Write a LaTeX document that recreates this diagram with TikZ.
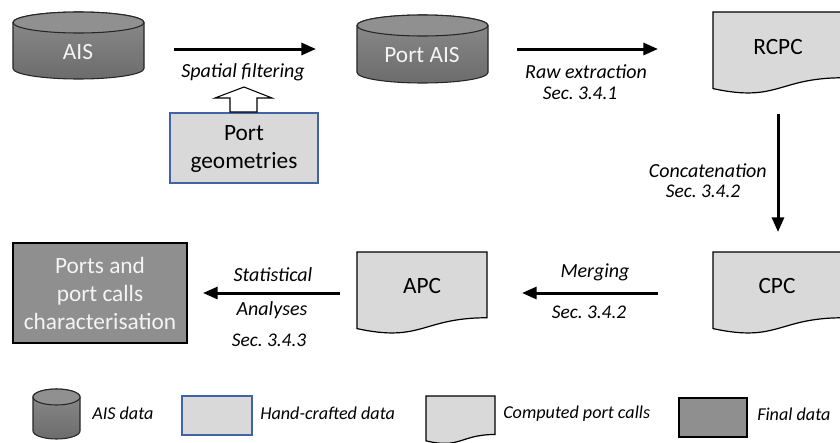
\documentclass[tikz,border=0pt]{standalone}
\usepackage{fontspec}
\setmainfont{Carlito}
\usetikzlibrary{arrows.meta,calc,fit}
\frenchspacing
\definecolor{docfill}{HTML}{D9D9D9}
\definecolor{finalfill}{HTML}{8F8F8F}
\definecolor{handborder}{HTML}{3F65A8}
\definecolor{cyltop}{HTML}{909090}
\definecolor{cylhi}{HTML}{8C8C8C}
\definecolor{cyllo}{HTML}{6C6C6C}
\definecolor{lighttext}{HTML}{F4F4F4}
\newcommand\mycyl[5]{%
  \shadedraw[top color=cylhi,bottom color=cyllo,draw=black!85,line width=0.8pt]
  (#1,{#3+#5}) -- (#1,{#4-#5}) arc[start angle=180,end angle=0,x radius={(#2-#1)/2},y radius=#5]
  -- (#2,{#3+#5}) arc[start angle=0,end angle=-180,x radius={(#2-#1)/2},y radius=#5] -- cycle;
  \filldraw[fill=cyltop,draw=black!85,line width=0.8pt] ({(#1+#2)/2},{#3+#5}) ellipse[x radius={(#2-#1)/2},y radius=#5];
}
\newcommand\mydoc[4]{%
  \filldraw[fill=docfill,draw=black,line width=0.9pt] (#1,#3) -- (#2,#3) -- (#2,{#3+0.802*#4})
  .. controls ({(#1+#2)/2},{#3+0.802*#4}) and ({(#1+#2)/2},{#3+1.107*#4}) .. (#1,{#3+0.934*#4}) -- cycle;
}
\tikzset{
  area/.style={inner sep=0pt,outer sep=0pt},
  maintext/.style={font=\fontsize{17.5}{21}\selectfont,align=center,inner sep=0pt},
  lbl/.style={font=\fontsize{15}{18}\selectfont\itshape,inner sep=0pt},
  sec/.style={font=\fontsize{14.5}{17}\selectfont\itshape,inner sep=0pt},
  legtext/.style={font=\fontsize{13.6}{16}\selectfont\itshape,inner sep=0pt,anchor=west},
  flow/.style={line width=2.25pt,-{Triangle[length=11pt,width=9pt]}},
  handbox/.style={fill=docfill,draw=handborder,line width=0.9pt},
  finalbox/.style={fill=finalfill,draw=black,line width=1.1pt},
}
\begin{document}
\begin{tikzpicture}[x=0.75pt,y=-0.75pt]
\useasboundingbox (0,0) rectangle (840,443);
\clip (0,0) rectangle (840,443);
\fill[white] (0,0) rectangle (840,443);

% --- shapes ---
\mycyl{13}{144}{12}{79}{10.5}
\node[area,fit={(13,12)(144,79)}] (ais) {};
\node[maintext,text=lighttext] (aist) at (78,52) {AIS};

\mycyl{357}{488}{15}{83}{10.5}
\node[area,fit={(357,15)(488,83)}] (portais) {};
\node[maintext,text=lighttext] (portaist) at (422,55) {Port AIS};

\draw[handbox] (170,113) rectangle (318,183);
\node[area,fit={(170,113)(318,183)}] (geo) {};
\node[maintext] (geot) at (244,149) {Port\\geometries};

\mydoc{713}{843}{12}{82}
\node[area,fit={(713,12)(843,88)}] (rcpc) {};
\node[maintext] (rcpct) at (778,47) {RCPC};

\mydoc{713}{843}{252}{82}
\node[area,fit={(713,252)(843,330)}] (cpc) {};
\node[maintext] (cpct) at (777,286) {CPC};

\mydoc{357}{487}{252}{82}
\node[area,fit={(357,252)(487,328)}] (apc) {};
\node[maintext] (apct) at (422,286) {APC};

\draw[finalbox] (13,243) rectangle (187,343);
\node[area,fit={(13,243)(187,343)}] (final) {};
\node[maintext,text=lighttext] (finalt) at (100,293) {Ports and\\port calls\\characterisation};

% --- connectors ---
\draw[flow] ($(ais.east |- portais.west)+(30,0)$) -- ($(portais.west)+(-41,0)$);
\node[lbl] at (243,72) {Spatial filtering};
\filldraw[fill=white,draw=black,line width=0.8pt]
  ($(geo.north)+(-14,-1)$) -- ($(geo.north)+(-14,-15)$) -- ($(geo.north)+(-29,-15)$)
  -- ($(geo.north)+(0,-26)$) -- ($(geo.north)+(28,-15)$) -- ($(geo.north)+(13,-15)$)
  -- ($(geo.north)+(13,-1)$) -- cycle;

\draw[flow] ($(portais.east)+(29,0)$) -- ($(portais.east -| rcpc.west)+(-55,0)$);
\node[lbl] at (586,72) {Raw extraction};
\node[sec] at (580,93) {Sec. 3.4.1};

\draw[flow] (778,114) -- (778,232);
\node[lbl,anchor=east] at (767,171) {Concatenation};
\node[sec] at (703,191) {Sec. 3.4.2};

\draw[flow] ($(cpc.west |- 0,293)+(-55,0)$) -- ($(apc.east |- 0,293)+(35,0)$);
\node[lbl] at (595,272) {Merging};
\node[sec] at (589,312) {Sec. 3.4.2};

\draw[flow] ($(apc.west |- 0,293)+(-17,0)$) -- ($(final.east |- 0,293)+(16,0)$);
\node[lbl] at (273,275) {Statistical};
\node[lbl] at (272,310) {Analyses};
\node[sec] at (269,340) {Sec. 3.4.3};

% --- legend ---
\mycyl{33}{80}{389}{439}{8}
\node[area,fit={(33,389)(80,439)}] (legcyl) {};
\node[legtext] at (92,413) {AIS data};

\draw[handbox] (182,396) rectangle (252,435);
\node[area,fit={(182,396)(252,435)}] (leghand) {};
\node[legtext] at (260,413) {Hand-crafted data};

\mydoc{426}{495}{396}{48}
\node[area,fit={(426,396)(495,441)}] (legdoc) {};
\node[legtext] at (503,414) {Computed port calls};

\draw[finalbox] (679,398) rectangle (747,437);
\node[area,fit={(679,398)(747,437)}] (legfinal) {};
\node[legtext] at (757,414) {Final data};
\end{tikzpicture}
\end{document}
